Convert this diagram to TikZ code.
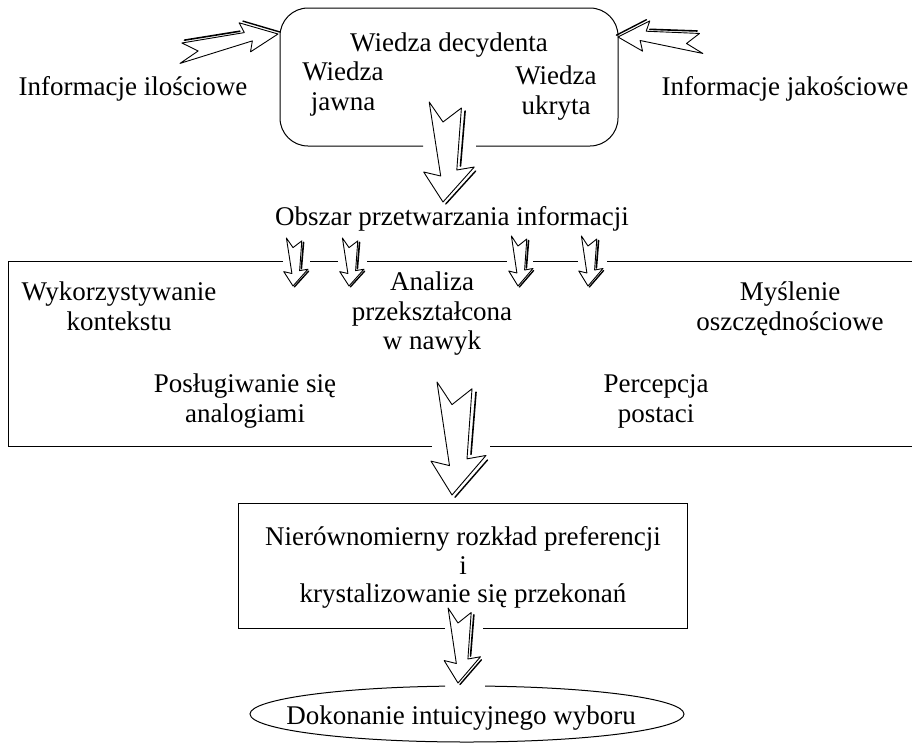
\documentclass[tikz,border=0pt]{standalone}
\usepackage{fontspec}
\setmainfont{Liberation Serif}
\begin{document}
\begin{tikzpicture}[x=1pt,y=-1pt,line width=1pt,
  lbl/.style={font=\fontsize{27}{30}\selectfont,inner sep=0pt,anchor=base},
  zz/.pic={
    \filldraw[fill=white,line join=round,line width=0.9pt]
      (-0.30,-1) -- (0,-0.80) -- (0.40,-0.94) -- (0.30,-0.32) -- (0.68,-0.35)
      -- (0,0) -- (-0.42,-0.30) -- (-0.05,-0.26) -- cycle;
    \draw[line width=1.6pt,line cap=round] (0.48,-0.91) -- (0.38,-0.36);
    \draw[line width=1.4pt,line cap=round] (0.71,-0.31) -- (0.06,0.02);
  }]
\useasboundingbox (0,0) rectangle (912,745);

% top rounded box with gap at bottom
\draw[rounded corners=28] (476,146) -- (618,146) -- (618,8) -- (280,8) -- (280,146) -- (423,146);
\node[lbl] (wd) at (449,51) {Wiedza decydenta};
\node[lbl] (wj1) at (343,80) {Wiedza};
\node[lbl] (wj2) at (343,110) {jawna};
\node[lbl] (wu1) at (556,84) {Wiedza};
\node[lbl] (wu2) at (556,114) {ukryta};
\node[lbl] (ii) at (133,95) {Informacje ilościowe};
\node[lbl] (ij) at (785,95) {Informacje jakościowe};

% side arrows
\pic[rotate=102,xscale=28,yscale=102] at (278,34) {zz};
\pic[rotate=264.6,xscale=-28,yscale=86] at (618,37) {zz};

% big arrow 1
\pic[xscale=46,yscale=100] at (443,202) {zz};

\node[lbl] (obs) at (452,225) {Obszar przetwarzania informacji};

% big box (open on right)
\draw (283,261) -- (8,261) -- (8,446) -- (432,446);
\draw (490,446) -- (920,446);
\draw (310,261) -- (338,261);
\draw (367,261) -- (507,261);
\draw (533,261) -- (578,261);
\draw (607,261) -- (920,261);

% small arrows
\pic[xscale=22,yscale=48] at (293,286) {zz};
\pic[xscale=22,yscale=48] at (349,286) {zz};
\pic[xscale=22,yscale=50] at (518,286) {zz};
\pic[xscale=22,yscale=50] at (588,286) {zz};

\node[lbl] (wk1) at (119,300) {Wykorzystywanie};
\node[lbl] (wk2) at (119,330) {kontekstu};
\node[lbl] (an1) at (432,290) {Analiza};
\node[lbl] (an2) at (432,320) {przekształcona};
\node[lbl] (an3) at (432,349) {w nawyk};
\node[lbl] (my1) at (790,300) {Myślenie};
\node[lbl] (my2) at (790,330) {oszczędnościowe};
\node[lbl] (po1) at (245,392) {Posługiwanie się};
\node[lbl] (po2) at (245,422) {analogiami};
\node[lbl] (pe1) at (656,392) {Percepcja};
\node[lbl] (pe2) at (656,422) {postaci};

% big arrow 2
\pic[xscale=50,yscale=113] at (452,495) {zz};

% box 3
\draw (445,628) -- (238,628) -- (238,503) -- (687,503) -- (687,628) -- (483,628);
\node[lbl] (n1) at (463,545) {Nierównomierny rozkład preferencji};
\node[lbl] (n2) at (463,574) {i};
\node[lbl] (n3) at (463,602) {krystalizowanie się przekonań};

% arrow 3
\pic[xscale=33,yscale=75] at (458,683) {zz};

% ellipse with gap
\draw ([shift={(95.8:217pt and 28pt)}]467,714) arc[start angle=95.8,end angle=445.2,x radius=217pt,y radius=28pt];
\node[lbl] (dk) at (461,724) {Dokonanie intuicyjnego wyboru};
\end{tikzpicture}
\end{document}
